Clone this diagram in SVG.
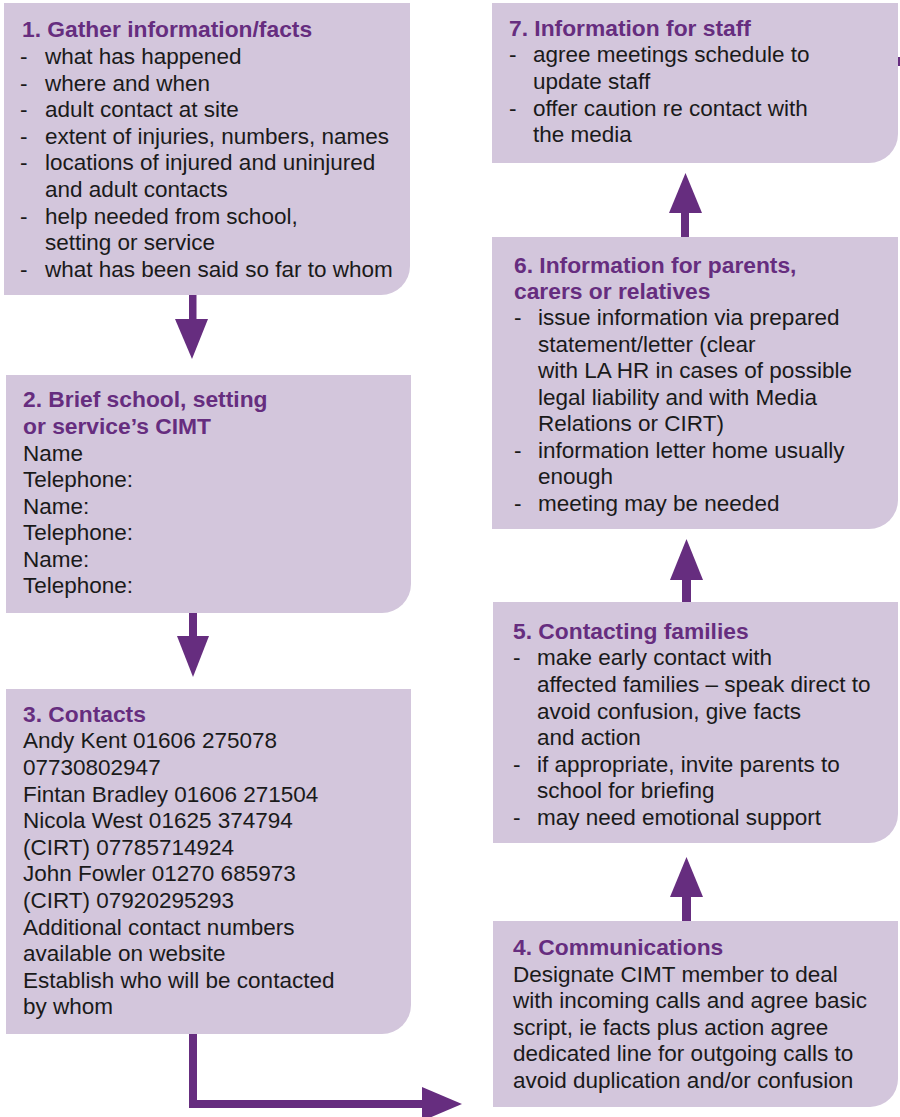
<svg xmlns="http://www.w3.org/2000/svg" width="900" height="1117" viewBox="0 0 900 1117">
<style>
.box{fill:#d3c6dc}
.t{font-family:"Liberation Sans",Arial,sans-serif;font-size:22.5px;fill:#1a1a1a}
.h{font-family:"Liberation Sans",Arial,sans-serif;font-size:22.8px;font-weight:bold;fill:#662d7f}
.arr{fill:#662d7f}
</style>
<rect width="900" height="1117" fill="#ffffff"/>
<g id="connectors" class="arr">
<rect x="189" y="294" width="7.5" height="27"/>
<polygon points="175,319 208,319 192,359"/>
<rect x="189" y="612" width="8" height="26"/>
<polygon points="177,636 209,636 193,677"/>
<polygon points="189,1033 197,1033 197,1100 424,1100 424,1108 189,1108"/>
<polygon points="422,1087 462,1104 422,1121"/>
<rect x="682" y="895" width="9" height="27"/>
<polygon points="670,897 703,897 686.5,857"/>
<rect x="682" y="578" width="9" height="25"/>
<polygon points="670,580 703,580 686.5,539"/>
<rect x="681" y="211" width="8" height="27"/>
<polygon points="669,213 702,213 685.5,173"/>
<rect x="897" y="57" width="3" height="9"/>
</g>
<g id="node1">
<path class="box" d="M4,3 H410 V266 A29,29 0 0 1 381,295 H4 Z"/>
<text class="h" x="22" y="37.3">1. Gather information/facts</text>
<g class="t">
<text x="20" y="63.9">-</text><text x="45" y="63.9">what has happened</text>
<text x="20" y="90.5">-</text><text x="45" y="90.5">where and when</text>
<text x="20" y="117.1">-</text><text x="45" y="117.1">adult contact at site</text>
<text x="20" y="143.7">-</text><text x="45" y="143.7">extent of injuries, numbers, names</text>
<text x="20" y="170.3">-</text><text x="45" y="170.3">locations of injured and uninjured</text>
<text x="45" y="196.9">and adult contacts</text>
<text x="20" y="223.5">-</text><text x="45" y="223.5">help needed from school,</text>
<text x="45" y="250.1">setting or service</text>
<text x="20" y="276.7">-</text><text x="45" y="276.7">what has been said so far to whom</text>
</g>
</g>
<g id="node2">
<path class="box" d="M6,375 H411 V584 A29,29 0 0 1 382,613 H6 Z"/>
<text class="h" x="23" y="407">2. Brief school, setting</text>
<text class="h" x="23" y="433.5">or service’s CIMT</text>
<g class="t">
<text x="23" y="460.5">Name</text>
<text x="23" y="487">Telephone:</text>
<text x="23" y="513.5">Name:</text>
<text x="23" y="540">Telephone:</text>
<text x="23" y="566.5">Name:</text>
<text x="23" y="593">Telephone:</text>
</g>
</g>
<g id="node3">
<path class="box" d="M6,689 H411 V1005 A29,29 0 0 1 382,1034 H6 Z"/>
<text class="h" x="23" y="722">3. Contacts</text>
<g class="t">
<text x="23" y="748.3">Andy Kent 01606 275078</text>
<text x="23" y="774.9">07730802947</text>
<text x="23" y="801.5">Fintan Bradley 01606 271504</text>
<text x="23" y="828.1">Nicola West 01625 374794</text>
<text x="23" y="854.7">(CIRT) 07785714924</text>
<text x="23" y="881.3">John Fowler 01270 685973</text>
<text x="23" y="907.9">(CIRT) 07920295293</text>
<text x="23" y="934.5">Additional contact numbers</text>
<text x="23" y="961.1">available on website</text>
<text x="23" y="987.7">Establish who will be contacted</text>
<text x="23" y="1014.3">by whom</text>
</g>
</g>
<g id="node4">
<path class="box" d="M493,921 H898 V1079 A28,28 0 0 1 870,1107 H493 Z"/>
<text class="h" x="513" y="955">4. Communications</text>
<g class="t">
<text x="513" y="981.6">Designate CIMT member to deal</text>
<text x="513" y="1008.2">with incoming calls and agree basic</text>
<text x="513" y="1034.8">script, ie facts plus action agree</text>
<text x="513" y="1061.4">dedicated line for outgoing calls to</text>
<text x="513" y="1088">avoid duplication and/or confusion</text>
</g>
</g>
<g id="node5">
<path class="box" d="M493,602 H898 V814 A29,29 0 0 1 869,843 H493 Z"/>
<text class="h" x="513" y="639">5. Contacting families</text>
<g class="t">
<text x="513" y="665.3">-</text><text x="537" y="665.3">make early contact with</text>
<text x="537" y="691.9">affected families – speak direct to</text>
<text x="537" y="718.5">avoid confusion, give facts</text>
<text x="537" y="745.1">and action</text>
<text x="513" y="771.7">-</text><text x="537" y="771.7">if appropriate, invite parents to</text>
<text x="537" y="798.3">school for briefing</text>
<text x="513" y="824.9">-</text><text x="537" y="824.9">may need emotional support</text>
</g>
</g>
<g id="node6">
<path class="box" d="M492,237 H898 V500 A29,29 0 0 1 869,529 H492 Z"/>
<text class="h" x="514" y="273">6. Information for parents,</text>
<text class="h" x="514" y="298.5">carers or relatives</text>
<g class="t">
<text x="514" y="325">-</text><text x="538" y="325">issue information via prepared</text>
<text x="538" y="351.5">statement/letter (clear</text>
<text x="538" y="378">with LA HR in cases of possible</text>
<text x="538" y="404.5">legal liability and with Media</text>
<text x="538" y="431">Relations or CIRT)</text>
<text x="514" y="457.5">-</text><text x="538" y="457.5">information letter home usually</text>
<text x="538" y="484">enough</text>
<text x="514" y="510.5">-</text><text x="538" y="510.5">meeting may be needed</text>
</g>
</g>
<g id="node7">
<path class="box" d="M492,3 H898 V134 A29,29 0 0 1 869,163 H492 Z"/>
<text class="h" x="509" y="36">7. Information for staff</text>
<g class="t">
<text x="509" y="62.3">-</text><text x="533" y="62.3">agree meetings schedule to</text>
<text x="533" y="88.9">update staff</text>
<text x="509" y="115.5">-</text><text x="533" y="115.5">offer caution re contact with</text>
<text x="533" y="142.1">the media</text>
</g>
</g>
</svg>
